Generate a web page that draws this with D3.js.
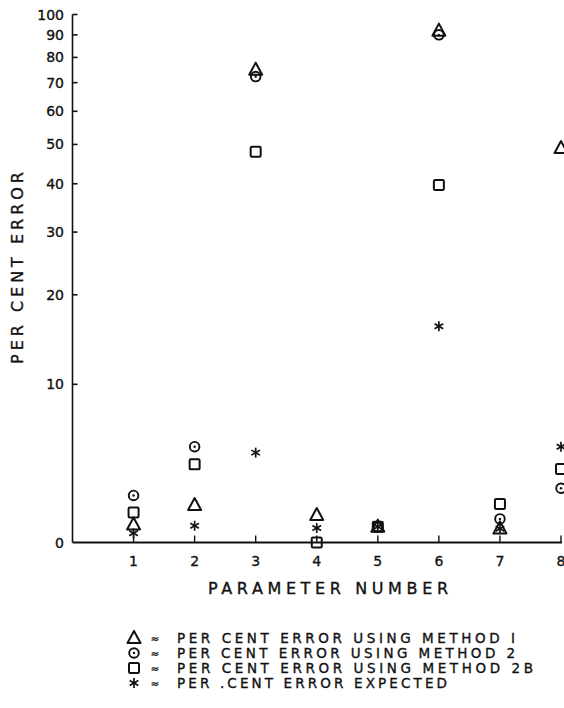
<!DOCTYPE html>
<html>
<head>
<meta charset="utf-8">
<script src="https://cdn.jsdelivr.net/npm/d3@7"></script>
<style>
  html, body { margin: 0; padding: 0; background: #fff; }
  svg { display: block; }
  text { font-family: "DejaVu Sans", sans-serif; fill: #111; stroke: #111; stroke-width: 0.35px; }
</style>
</head>
<body>
<svg id="chart" width="564" height="708"></svg>
<script>
// ---- data ----
const params = [1, 2, 3, 4, 5, 6, 7, 8];
const method1 = [0.8, 1.74, 75, 1.25, 0.7, 92, 0.62, 49];      // triangle
const method2 = [2.24, 5.15, 72.3, null, 0.7, 90, 1.06, 2.63];  // circle with dot
const method2B = [1.37, 4.02, 48, 0, 0.7, 39.7, 1.8, 3.74];     // square
const expected = [0.4, 0.74, 4.76, 0.64, 0.7, 16, 0.6, 5.15];   // asterisk
const yTicks = [0, 10, 20, 30, 40, 50, 60, 70, 80, 90, 100];
const xTicks = [1, 2, 3, 4, 5, 6, 7, 8];
const legendLabels = [
  "PER CENT ERROR USING METHOD I",
  "PER CENT ERROR USING METHOD 2",
  "PER CENT ERROR USING METHOD 2B",
  "PER .CENT ERROR EXPECTED"
];

const OFFSET = 9; // axis is log(value + 9)

const svg = d3.select("#chart");
const x = d3.scaleLinear().domain([0, 8]).range([72.5, 561]);
const yLog = d3.scaleLog().domain([OFFSET, 100 + OFFSET]).range([542.5, 14.5]);
const y = v => yLog(v + OFFSET);

const ink = "#111";

// axes
svg.append("line").attr("x1", x(0)).attr("x2", x(0)).attr("y1", y(100)).attr("y2", y(0))
  .attr("stroke", ink).attr("stroke-width", 1.6);
svg.append("line").attr("x1", x(0)).attr("x2", x(8) + 1).attr("y1", y(0)).attr("y2", y(0))
  .attr("stroke", ink).attr("stroke-width", 2.2);

const yt = svg.append("g");
yTicks.forEach(t => {
  if (t > 0) {
    yt.append("line").attr("x1", x(0)).attr("x2", x(0) + 5)
      .attr("y1", y(t)).attr("y2", y(t)).attr("stroke", ink).attr("stroke-width", 1.6);
  }
  yt.append("text").attr("x", 64).attr("y", y(t)).attr("dy", "0.36em")
    .attr("text-anchor", "end").attr("font-size", 14).text(t);
});

const xt = svg.append("g");
xTicks.forEach(t => {
  xt.append("line").attr("x1", x(t)).attr("x2", x(t))
    .attr("y1", y(0)).attr("y2", y(0) - 7).attr("stroke", ink).attr("stroke-width", 1.4);
  xt.append("text").attr("x", x(t)).attr("y", 561).attr("dy", "0.36em")
    .attr("text-anchor", "middle").attr("font-size", 14).text(t);
});

// axis titles
svg.append("text").attr("x", 208).attr("y", 588).attr("dy", "0.36em")
  .attr("font-size", 16).attr("textLength", 240).attr("lengthAdjust", "spacing")
  .text("PARAMETER   NUMBER");
svg.append("text").attr("transform", "translate(17,268) rotate(-90)").attr("dy", "0.36em")
  .attr("text-anchor", "middle").attr("font-size", 16)
  .attr("textLength", 192).attr("lengthAdjust", "spacing")
  .text("PER CENT ERROR");

// marker drawers
function triangle(g, cx, cy) {
  g.append("path").attr("d", `M${cx},${cy - 7} L${cx + 6.5},${cy + 5} L${cx - 6.5},${cy + 5} Z`)
    .attr("fill", "none").attr("stroke", ink).attr("stroke-width", 2).attr("stroke-linejoin", "round");
}
function circleDot(g, cx, cy) {
  g.append("circle").attr("cx", cx).attr("cy", cy).attr("r", 4.8)
    .attr("fill", "none").attr("stroke", ink).attr("stroke-width", 1.9);
  g.append("circle").attr("cx", cx).attr("cy", cy).attr("r", 1.2).attr("fill", ink);
}
function square(g, cx, cy) {
  g.append("rect").attr("x", cx - 5).attr("y", cy - 5).attr("width", 10).attr("height", 10)
    .attr("rx", 1.2).attr("fill", "none").attr("stroke", ink).attr("stroke-width", 2);
}
function asterisk(g, cx, cy) {
  const r = 5;
  [90, 30, -30].forEach(a => {
    const rad = a * Math.PI / 180;
    g.append("line").attr("x1", cx - r * Math.cos(rad)).attr("y1", cy - r * Math.sin(rad))
      .attr("x2", cx + r * Math.cos(rad)).attr("y2", cy + r * Math.sin(rad))
      .attr("stroke", ink).attr("stroke-width", 1.7);
  });
}

const series = [
  { data: method2B, draw: square },
  { data: method2, draw: circleDot },
  { data: method1, draw: triangle },
  { data: expected, draw: asterisk }
];
const marks = svg.append("g");
series.forEach(s => {
  params.forEach((p, i) => {
    const v = s.data[i];
    if (v === null || v === undefined) return;
    s.draw(marks, x(p), y(v));
  });
});

// legend
const legendDraw = [triangle, circleDot, square, asterisk];
const legendY = [638, 653, 668, 683];
const legendLen = [338, 338, 356, 270];
const lg = svg.append("g");
legendLabels.forEach((lab, i) => {
  legendDraw[i](lg, 134, legendY[i]);
  lg.append("text").attr("x", 155).attr("y", legendY[i]).attr("dy", "0.36em")
    .attr("text-anchor", "middle").attr("font-size", 10).text("≈");
  lg.append("text").attr("x", 177).attr("y", legendY[i]).attr("dy", "0.36em")
    .attr("font-size", 13.5).attr("textLength", legendLen[i]).attr("lengthAdjust", "spacing")
    .text(lab);
});
</script>
</body>
</html>
